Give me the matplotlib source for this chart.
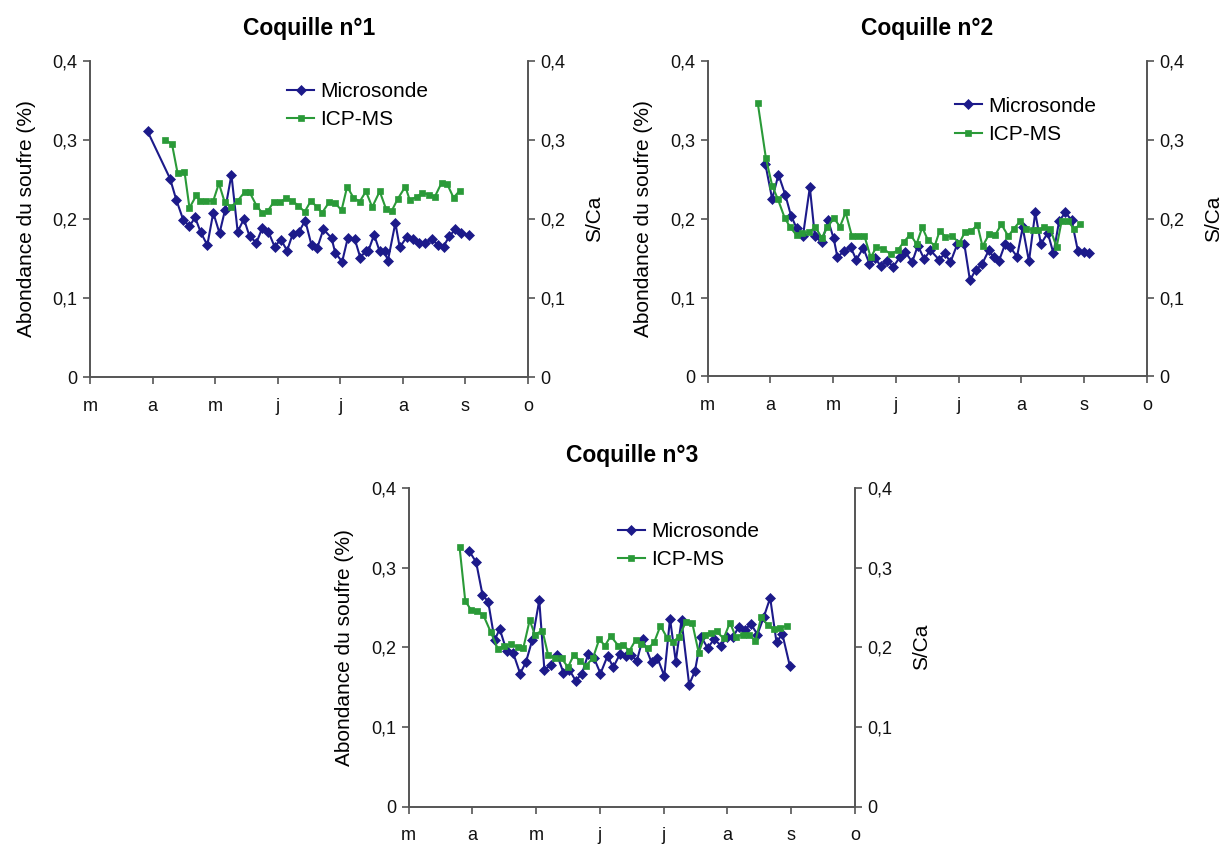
import matplotlib
matplotlib.use("Agg")
import matplotlib.pyplot as plt

plt.rcParams['font.family'] = ['Liberation Sans', 'DejaVu Sans']

# ---------------- data ----------------
month_labels = ['m', 'a', 'm', 'j', 'j', 'a', 's', 'o']
ytick_vals = [0, 0.1, 0.2, 0.3, 0.4]
ytick_labels = ['0', '0,1', '0,2', '0,3', '0,4']
titles = ['Coquille n°1', 'Coquille n°2', 'Coquille n°3']
series_names = ['Microsonde', 'ICP-MS']

# x = months elapsed since 1 March
c1_micro_x = [0.92, 1.28, 1.38, 1.49, 1.59, 1.68, 1.77, 1.875, 1.97, 2.07, 2.16, 2.26, 2.36, 2.46, 2.55,
              2.66, 2.75, 2.85, 2.95, 3.05, 3.15, 3.24, 3.34, 3.44, 3.54, 3.63, 3.73, 3.86, 3.92, 4.03,
              4.12, 4.23, 4.32, 4.41, 4.45, 4.54, 4.63, 4.71, 4.76, 4.88, 4.95, 5.06, 5.155, 5.25, 5.35,
              5.46, 5.56, 5.65, 5.74, 5.84, 5.93, 6.06]
c1_micro_y = [0.311, 0.251, 0.224, 0.199, 0.191, 0.202, 0.183, 0.167, 0.208, 0.182, 0.212, 0.256, 0.184,
              0.200, 0.178, 0.170, 0.188, 0.184, 0.165, 0.174, 0.160, 0.181, 0.184, 0.198, 0.167, 0.163,
              0.187, 0.176, 0.157, 0.146, 0.176, 0.175, 0.151, 0.160, 0.160, 0.180, 0.159, 0.159, 0.147,
              0.195, 0.164, 0.177, 0.175, 0.170, 0.169, 0.175, 0.167, 0.165, 0.178, 0.187, 0.182, 0.180]
c1_icp_x = [1.20, 1.31, 1.40, 1.51, 1.59, 1.70, 1.76, 1.86, 1.97, 2.06, 2.15, 2.25, 2.36, 2.47, 2.55, 2.66,
            2.75, 2.84, 2.94, 3.04, 3.14, 3.23, 3.33, 3.43, 3.53, 3.63, 3.71, 3.82, 3.92, 4.02, 4.11, 4.21,
            4.31, 4.41, 4.51, 4.63, 4.73, 4.82, 4.915, 5.04, 5.11, 5.22, 5.31, 5.41, 5.51, 5.62, 5.71,
            5.81, 5.91]
c1_icp_y = [0.300, 0.295, 0.258, 0.260, 0.214, 0.230, 0.223, 0.223, 0.223, 0.245, 0.222, 0.215, 0.223,
            0.234, 0.234, 0.217, 0.208, 0.210, 0.222, 0.221, 0.227, 0.223, 0.217, 0.209, 0.223, 0.215,
            0.208, 0.221, 0.220, 0.211, 0.241, 0.227, 0.222, 0.235, 0.215, 0.235, 0.213, 0.210, 0.225,
            0.241, 0.224, 0.228, 0.233, 0.231, 0.228, 0.246, 0.244, 0.227, 0.236]

c2_micro_x = [0.92, 1.03, 1.13, 1.24, 1.33, 1.42, 1.52, 1.63, 1.71, 1.82, 1.92, 2.01, 2.07, 2.17, 2.28,
              2.37, 2.48, 2.58, 2.67, 2.76, 2.86, 2.96, 3.06, 3.15, 3.26, 3.35, 3.45, 3.55, 3.69, 3.78,
              3.87, 3.98, 4.09, 4.18, 4.27, 4.37, 4.48, 4.56, 4.64, 4.74, 4.82, 4.93, 5.02, 5.12, 5.22,
              5.31, 5.42, 5.51, 5.60, 5.70, 5.80, 5.90, 6.00, 6.08]
c2_micro_y = [0.270, 0.225, 0.256, 0.230, 0.204, 0.188, 0.178, 0.240, 0.178, 0.170, 0.198, 0.175, 0.151,
              0.159, 0.164, 0.148, 0.163, 0.143, 0.150, 0.140, 0.147, 0.139, 0.151, 0.158, 0.145, 0.166,
              0.149, 0.160, 0.148, 0.156, 0.145, 0.168, 0.168, 0.122, 0.135, 0.142, 0.160, 0.151, 0.146,
              0.168, 0.164, 0.152, 0.189, 0.146, 0.208, 0.168, 0.182, 0.156, 0.197, 0.208, 0.198, 0.159,
              0.158, 0.157]
c2_icp_x = [0.80, 0.93, 1.03, 1.12, 1.23, 1.32, 1.42, 1.51, 1.61, 1.72, 1.82, 1.91, 2.01, 2.11, 2.20, 2.30,
            2.40, 2.50, 2.60, 2.69, 2.80, 2.92, 3.03, 3.13, 3.23, 3.33, 3.42, 3.51, 3.62, 3.70, 3.79, 3.90,
            4.01, 4.10, 4.19, 4.30, 4.38, 4.49, 4.58, 4.68, 4.79, 4.875, 4.98, 5.07, 5.18, 5.27, 5.36,
            5.46, 5.56, 5.64, 5.74, 5.84, 5.94]
c2_icp_y = [0.347, 0.277, 0.242, 0.225, 0.201, 0.189, 0.179, 0.182, 0.183, 0.189, 0.176, 0.189, 0.201,
            0.190, 0.208, 0.178, 0.178, 0.178, 0.151, 0.164, 0.162, 0.155, 0.160, 0.171, 0.180, 0.168,
            0.189, 0.173, 0.166, 0.185, 0.177, 0.178, 0.169, 0.183, 0.184, 0.192, 0.165, 0.181, 0.179,
            0.193, 0.178, 0.187, 0.197, 0.187, 0.186, 0.186, 0.189, 0.187, 0.164, 0.197, 0.197, 0.187,
            0.193]

c3_micro_x = [0.95, 1.06, 1.16, 1.25, 1.35, 1.43, 1.54, 1.64, 1.75, 1.84, 1.94, 2.05, 2.13, 2.24, 2.33,
              2.43, 2.52, 2.62, 2.72, 2.82, 2.91, 3.01, 3.12, 3.21, 3.32, 3.41, 3.49, 3.58, 3.67, 3.81,
              3.90, 4.01, 4.10, 4.19, 4.28, 4.40, 4.49, 4.59, 4.69, 4.79, 4.90, 4.99, 5.09, 5.18, 5.27,
              5.37, 5.47, 5.57, 5.67, 5.77, 5.86, 5.98]
c3_micro_y = [0.321, 0.307, 0.266, 0.257, 0.209, 0.223, 0.195, 0.193, 0.167, 0.181, 0.209, 0.259, 0.172,
              0.178, 0.190, 0.168, 0.172, 0.158, 0.167, 0.192, 0.186, 0.167, 0.189, 0.175, 0.192, 0.189,
              0.190, 0.183, 0.210, 0.181, 0.187, 0.164, 0.236, 0.182, 0.234, 0.153, 0.170, 0.213, 0.199,
              0.210, 0.202, 0.213, 0.213, 0.226, 0.222, 0.229, 0.216, 0.238, 0.262, 0.206, 0.217, 0.176]
c3_icp_x = [0.80, 0.89, 0.98, 1.07, 1.17, 1.29, 1.40, 1.50, 1.61, 1.71, 1.80, 1.90, 1.98, 2.10, 2.19, 2.30,
            2.40, 2.50, 2.59, 2.69, 2.78, 2.89, 2.99, 3.08, 3.17, 3.29, 3.37, 3.46, 3.56, 3.65, 3.76, 3.85,
            3.95, 4.06, 4.15, 4.24, 4.35, 4.45, 4.55, 4.65, 4.74, 4.83, 4.94, 5.04, 5.13, 5.24, 5.34,
            5.44, 5.53, 5.63, 5.73, 5.83, 5.93]
c3_icp_y = [0.326, 0.258, 0.247, 0.245, 0.241, 0.219, 0.198, 0.202, 0.204, 0.200, 0.199, 0.234, 0.216,
            0.221, 0.190, 0.186, 0.186, 0.175, 0.190, 0.183, 0.177, 0.186, 0.210, 0.202, 0.214, 0.202,
            0.203, 0.195, 0.209, 0.204, 0.199, 0.206, 0.227, 0.211, 0.207, 0.213, 0.232, 0.230, 0.193,
            0.216, 0.218, 0.220, 0.211, 0.231, 0.213, 0.216, 0.216, 0.208, 0.238, 0.228, 0.223, 0.224,
            0.227]

# ---------------- style ----------------
NAVY = '#1c1a8a'
GREEN = '#2a9a38'
SPINE = '#555555'

W, H = 1221, 844
fig = plt.figure(figsize=(W / 100, H / 100), dpi=100)

def rect(x0, x1, ytop, ybot):
    return [x0 / W, 1 - ybot / H, (x1 - x0) / W, (ybot - ytop) / H]

panels = [
    (rect(90, 528, 61, 377), titles[0], c1_micro_x, c1_micro_y, c1_icp_x, c1_icp_y, (0.45, 0.933)),
    (rect(707.5, 1147, 61, 376.5), titles[1], c2_micro_x, c2_micro_y, c2_icp_x, c2_icp_y, (0.563, 0.887)),
    (rect(408.5, 855, 488, 806.5), titles[2], c3_micro_x, c3_micro_y, c3_icp_x, c3_icp_y, (0.469, 0.893)),
]

for r, title, mx, my, ix, iy, leg_anchor in panels:
    ax = fig.add_axes(r)
    ax2 = ax.twinx()
    for a in (ax, ax2):
        a.set_xlim(0, 7)
        a.set_ylim(0, 0.4)
        a.spines['top'].set_visible(False)
        for s in ('left', 'right', 'bottom'):
            a.spines[s].set_color(SPINE)
            a.spines[s].set_linewidth(1.2)
        a.tick_params(direction='out', length=5, width=1.2, color=SPINE,
                      labelsize=13, labelcolor='#111111', pad=4)
    ax.set_xticks(range(len(month_labels)))
    ax.set_xticklabels(month_labels)
    ax.tick_params(axis='x', pad=10)
    ax.set_yticks(ytick_vals)
    ax.set_yticklabels(ytick_labels)
    ax2.set_yticks(ytick_vals)
    ax2.set_yticklabels(ytick_labels)

    l1, = ax.plot(mx, my, color=NAVY, lw=1.5, marker='D', markersize=5,
                  markeredgewidth=0.5, label=series_names[0])
    l2, = ax2.plot(ix, iy, color=GREEN, lw=1.5, marker='s', markersize=5,
                   markeredgewidth=0.5, label=series_names[1])

    ax.set_ylabel('Abondance du soufre (%)', fontsize=15, labelpad=12)
    ax2.set_ylabel('S/Ca', fontsize=15, labelpad=14)
    ax.set_title(title, fontsize=16.5, fontweight='bold', pad=19)

    ax2.legend([l1, l2], series_names, loc='upper left', bbox_to_anchor=leg_anchor,
               frameon=False, fontsize=15, handlelength=1.3, handletextpad=0.3,
               borderpad=0, borderaxespad=0, labelspacing=0.44)

fig.savefig('out.png', dpi=100)
